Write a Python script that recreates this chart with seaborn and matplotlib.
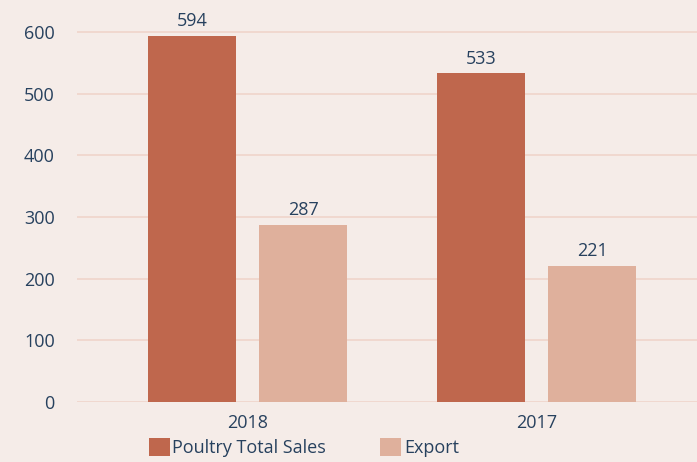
import matplotlib
matplotlib.use("Agg")
import matplotlib.pyplot as plt
import seaborn as sns
import pandas as pd
from matplotlib.patches import Patch

years = ["2018", "2017"]
series = ["Poultry Total Sales", "Export"]
total_sales = [594, 533]
export = [287, 221]
yticks = [0, 100, 200, 300, 400, 500, 600]

bg = "#f5ece8"
grid = "#efd5ca"
txt = "#27415e"
colors = ["#bf674d", "#dfb09c"]

df = pd.DataFrame({
    "year": years * 2,
    "series": [series[0]] * 2 + [series[1]] * 2,
    "value": total_sales + export,
})

sns.set_theme(style="white")
plt.rcParams["font.family"] = ["Open Sans", "DejaVu Sans"]

fig = plt.figure(figsize=(6.97, 4.62), dpi=100, facecolor=bg)
ax = fig.add_axes([77 / 697, 60 / 462, 620 / 697, 402 / 462])
ax.set_facecolor(bg)

sns.barplot(data=df, x="year", y="value", hue="series", order=years,
            hue_order=series, palette=colors, width=0.768, gap=0.207,
            saturation=1, ax=ax, legend=False, linewidth=0, edgecolor="none")

for c in ax.containers:
    ax.bar_label(c, fmt="%d", padding=4, color=txt, fontsize=13)

ax.set_ylim(0, 652)
ax.set_xlim(-0.59, 1.555)
ax.set_yticks(yticks)
ax.set_yticklabels([str(v) for v in yticks])
ax.yaxis.grid(True, color=grid, linewidth=1.2)
ax.set_axisbelow(True)
for s in ax.spines.values():
    s.set_visible(False)
ax.tick_params(axis="both", length=0, labelsize=13, labelcolor=txt)
ax.tick_params(axis="y", pad=16)
ax.tick_params(axis="x", pad=9)
ax.set_xlabel("")
ax.set_ylabel("")

handles = [Patch(facecolor=colors[0], edgecolor="none"),
           Patch(facecolor=colors[1], edgecolor="none")]
fig.legend(handles, series, loc="upper left",
           bbox_to_anchor=(149 / 697, 1 - 438 / 462), ncol=2, frameon=False,
           fontsize=13, labelcolor=txt, handlelength=1.15, handleheight=1.15,
           handletextpad=0.15, columnspacing=3.0, borderpad=0, borderaxespad=0)

fig.savefig("out.png", dpi=100, facecolor=bg)
